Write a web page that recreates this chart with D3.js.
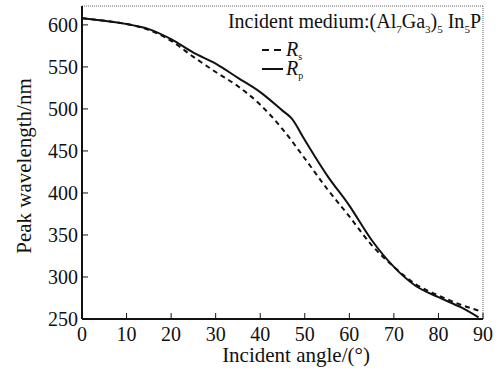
<!DOCTYPE html>
<html lang="en">
<head>
<meta charset="utf-8">
<script src="https://cdn.jsdelivr.net/npm/d3@7"></script>
</head>
<body style="margin:0;background:#fff">
<svg id="chart" width="499" height="369">
  <text x="481" y="28" text-anchor="end" fill="#111" style="font-family:'Liberation Serif';font-size:20px">Incident medium:(Al<tspan dy="5" style="font-family:'Liberation Serif';font-size:11px">7</tspan><tspan dy="-5">Ga</tspan><tspan dy="5" style="font-family:'Liberation Serif';font-size:11px">3</tspan><tspan dy="-5">)</tspan><tspan dy="5" style="font-family:'Liberation Serif';font-size:11px">5</tspan><tspan dy="-5"> In</tspan><tspan dy="5" style="font-family:'Liberation Serif';font-size:11px">5</tspan><tspan dy="-5">P</tspan></text>
  <text x="286" y="56" fill="#111" style="font-family:'Liberation Serif';font-size:20px"><tspan style="font-style:italic">R</tspan><tspan dy="4" style="font-family:'Liberation Serif';font-size:10px">s</tspan></text>
  <text x="286" y="75" fill="#111" style="font-family:'Liberation Serif';font-size:20px"><tspan style="font-style:italic">R</tspan><tspan dy="4" style="font-family:'Liberation Serif';font-size:10px">p</tspan></text>
  <text x="296" y="362" text-anchor="middle" fill="#111" style="font-family:'Liberation Serif';font-size:21px">Incident angle/(°)</text>
  <text transform="translate(31,166) rotate(-90)" text-anchor="middle" fill="#111" style="font-family:'Liberation Serif';font-size:21px">Peak wavelength/nm</text>
</svg>
<script>
// data
const angles = [0, 5, 10, 15, 20, 25, 30, 35, 40, 45, 47, 50, 55, 60, 65, 70, 75, 80, 85, 89];
const rpValues = [608, 605, 601, 595, 583, 567, 554, 537, 520, 498, 489, 463, 421, 385, 344, 312, 289, 276, 264, 252];
const rsAngles = [0, 5, 10, 15, 20, 25, 30, 35, 40, 45, 50, 55, 60, 65, 70, 75, 80, 85, 89];
const rsValues = [608, 605, 601, 594, 581, 562, 544, 527, 505, 476, 441, 405, 372, 338, 312, 291, 278, 267, 260];
const xTicks = [0, 10, 20, 30, 40, 50, 60, 70, 80, 90];
const yTicks = [250, 300, 350, 400, 450, 500, 550, 600];

const W = 499, H = 369;
const margin = { left: 82, right: 16, top: 6, bottom: 50 };
const fontStyle = size => `font-family:'Liberation Serif';font-size:${size}px`;

const svg = d3.select("#chart");

const x = d3.scaleLinear().domain([0, 90]).range([margin.left, W - margin.right]);
const y = d3.scaleLinear().domain([250, 622.5]).range([H - margin.bottom, margin.top]);

// top / right frame (thin dotted)
svg.append("line")
    .attr("x1", x(0)).attr("x2", x(90)).attr("y1", y(622.5)).attr("y2", y(622.5))
    .attr("stroke", "#666").attr("stroke-width", 1).attr("stroke-dasharray", "1,1");
svg.append("line")
    .attr("x1", x(90)).attr("x2", x(90)).attr("y1", y(622.5)).attr("y2", y(250))
    .attr("stroke", "#666").attr("stroke-width", 1).attr("stroke-dasharray", "1,1");

// axis lines
svg.append("line")
    .attr("x1", x(0)).attr("x2", x(90)).attr("y1", y(250)).attr("y2", y(250))
    .attr("stroke", "#111").attr("stroke-width", 2);
svg.append("line")
    .attr("x1", x(0)).attr("x2", x(0)).attr("y1", y(250)).attr("y2", y(622.5))
    .attr("stroke", "#111").attr("stroke-width", 2);

// x ticks (inward) + labels
svg.selectAll(".xtick").data(xTicks).join("line")
    .attr("class", "xtick")
    .attr("x1", d => x(d)).attr("x2", d => x(d))
    .attr("y1", y(250)).attr("y2", y(250) - 6)
    .attr("stroke", "#111").attr("stroke-width", 1);
svg.selectAll(".xlab").data(xTicks).join("text")
    .attr("class", "xlab")
    .attr("x", d => x(d))
    .attr("y", y(250) + 22)
    .attr("text-anchor", "middle")
    .attr("fill", "#111")
    .attr("style", fontStyle(20))
    .text(d => d);

// y ticks (inward) + labels
svg.selectAll(".ytick").data(yTicks).join("line")
    .attr("class", "ytick")
    .attr("x1", x(0)).attr("x2", x(0) + 6)
    .attr("y1", d => y(d)).attr("y2", d => y(d))
    .attr("stroke", "#111").attr("stroke-width", 1);
svg.selectAll(".ylab").data(yTicks).join("text")
    .attr("class", "ylab")
    .attr("x", x(0) - 4)
    .attr("y", d => y(d) + 7)
    .attr("text-anchor", "end")
    .attr("fill", "#111")
    .attr("style", fontStyle(20))
    .text(d => d);

// curves
const lineRp = d3.line()
    .x((d, i) => x(angles[i]))
    .y(d => y(d))
    .curve(d3.curveMonotoneX);
const lineRs = d3.line()
    .x((d, i) => x(rsAngles[i]))
    .y(d => y(d))
    .curve(d3.curveMonotoneX);

svg.append("path")
    .attr("d", lineRs(rsValues))
    .attr("fill", "none")
    .attr("stroke", "#111")
    .attr("stroke-width", 2)
    .attr("stroke-dasharray", "5,4");

svg.append("path")
    .attr("d", lineRp(rpValues))
    .attr("fill", "none")
    .attr("stroke", "#111")
    .attr("stroke-width", 2);

// legend samples
const legendDash = ["7,5", null];
const legendY = [50, 69];
svg.selectAll(".legline").data(legendDash).join("line")
    .attr("class", "legline")
    .attr("x1", 262).attr("x2", 283)
    .attr("y1", (d, i) => legendY[i]).attr("y2", (d, i) => legendY[i])
    .attr("stroke", "#111").attr("stroke-width", 2)
    .attr("stroke-dasharray", d => d);
</script>
</body>
</html>
